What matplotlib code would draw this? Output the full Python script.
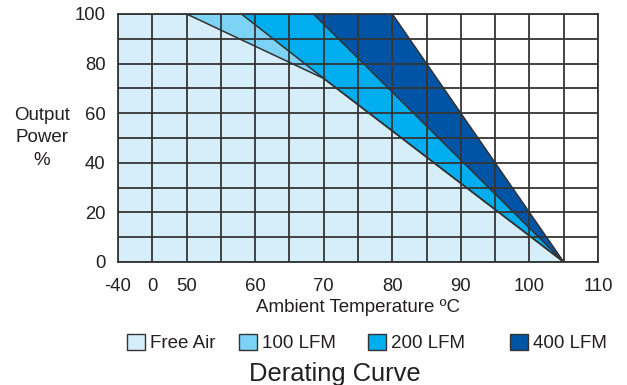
import matplotlib.pyplot as plt
import numpy as np
from matplotlib.patches import Patch

plt.rcParams['font.family'] = ['Liberation Sans', 'DejaVu Sans']

# derating curves (ambient temperature degC, output power %)
free_air_x = [-40, 50, 70, 105]
free_air_y = [100, 100, 74, 0]
lfm100_x = [-40, 58, 70, 105]
lfm100_y = [100, 100, 74, 0]
lfm200_x = [-40, 68.5, 105]
lfm200_y = [100, 100, 0]
lfm400_x = [-40, 80, 105]
lfm400_y = [100, 100, 0]

x_ticks = [-40, 0, 50, 60, 70, 80, 90, 100, 110]
x_grid = [-40, 0, 50, 55, 60, 65, 70, 75, 80, 85, 90, 95, 100, 105, 110]
y_ticks = [0, 20, 40, 60, 80, 100]
y_grid = [10, 30, 50, 70, 90]

labels = ['Free Air', '100 LFM', '200 LFM', '400 LFM']
colors = ['#d6edfa', '#7dd3f6', '#00adef', '#0054a6']

# broken temperature axis: -40..0 and 0..50 get one cell each, then 5 degC per cell
brk_x = [-1000, -40, 0, 50, 110, 1000]
brk_p = [-24, 0, 1, 2, 14, 192]


def fwd(v):
    return np.interp(v, brk_x, brk_p)


def inv(p):
    return np.interp(p, brk_p, brk_x)


line_col = '#333333'
txt_col = '#231f20'

fig = plt.figure(figsize=(6.27, 3.85), dpi=100)
ax = fig.add_axes([118 / 627, 1 - 262 / 385, 480 / 627, 248 / 385])
ax.set_xscale('function', functions=(fwd, inv))

# paint outermost first so inner curves cover
curves = [(lfm400_x, lfm400_y), (lfm200_x, lfm200_y), (lfm100_x, lfm100_y), (free_air_x, free_air_y)]
for (cx, cy), c in zip(curves, colors[::-1]):
    ax.fill_between(cx, cy, 0, color=c, lw=0, zorder=1)
for cx, cy in curves:
    ax.plot(cx, cy, color=line_col, lw=1.1, zorder=3)

ax.set_xlim(-40, 110)
ax.set_ylim(0, 100)
ax.set_xticks(x_ticks)
ax.set_xticks(x_grid, minor=True)
ax.set_yticks(y_ticks)
ax.set_yticks(y_grid, minor=True)
ax.set_xticklabels([str(t) for t in x_ticks])
ax.grid(True, which='both', color='#353535', lw=1.3, zorder=2)
ax.tick_params(which='both', length=0, labelsize=13.3, labelcolor=txt_col)
ax.tick_params(axis='x', pad=11.5)
ax.tick_params(axis='y', pad=9)
for s in ax.spines.values():
    s.set_color('#353535')
    s.set_linewidth(1.3)

ax.set_xlabel('Ambient Temperature ºC', fontsize=13.5, color=txt_col, labelpad=3)
ax.set_ylabel('Output\nPower\n%', rotation=0, fontsize=13.5, color=txt_col,
              ha='center', va='center', linespacing=1.45)
ax.yaxis.set_label_coords(-0.158, 0.5)

# legend entries sit at uneven spacing in the original
leg_left = [127, 239, 368, 510]
for lab, c, xl in zip(labels, colors, leg_left):
    h = Patch(facecolor=c, edgecolor=line_col, lw=1.0)
    fig.legend([h], [lab], loc='center left', bbox_to_anchor=(xl / 627, 1 - 343 / 385),
               frameon=False, fontsize=13.5, handlelength=0.98, handleheight=0.98,
               handletextpad=0.25, borderpad=0, borderaxespad=0, labelcolor=txt_col)

fig.text(335 / 627, 3.5 / 385, 'Derating Curve', ha='center', va='baseline',
         fontsize=18.4, color=txt_col)

fig.savefig('out.png', dpi=100)
